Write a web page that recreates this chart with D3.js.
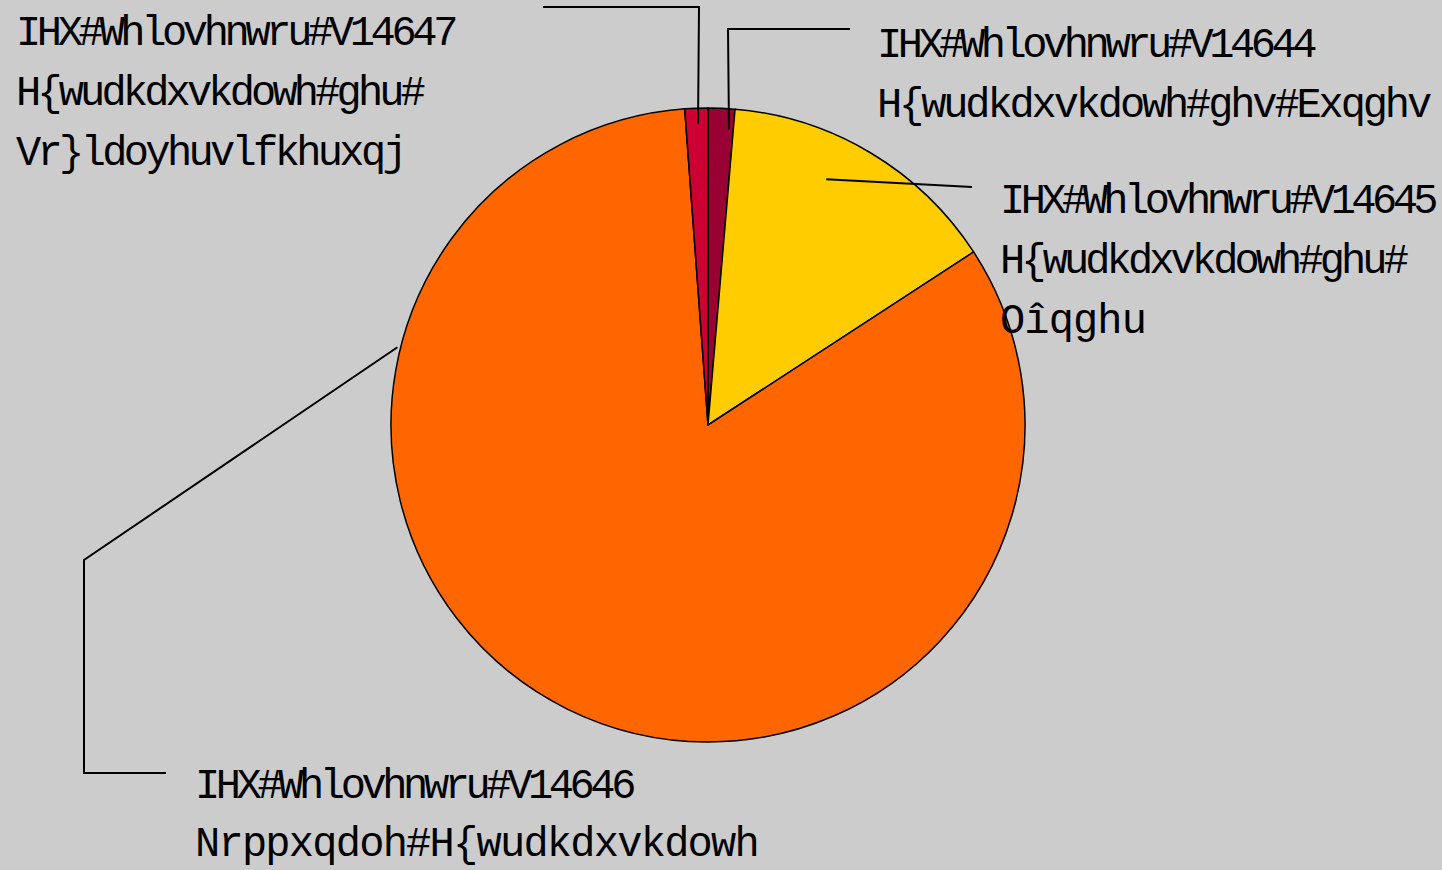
<!DOCTYPE html>
<html>
<head>
<meta charset="utf-8">
<script src="https://cdn.jsdelivr.net/npm/d3@7"></script>
<style>
  body { margin: 0; background: #cccccc; }
  svg { display: block; }
  .label { font-family: "Liberation Mono", "DejaVu Sans Mono", monospace; font-size: 42px; fill: #000; }
</style>
</head>
<body>
<svg id="chart" width="1442" height="870"></svg>
<script>
// sector names and shares (percent)
const sectors = ["S1.311", "S1.312", "S1.313", "S1.314"];
const shares = [1.36, 14.45, 83.02, 1.17];
const colors = ["#990033", "#ffcc00", "#ff6600", "#cc0033"];

// label text, line by line
const labelLines = [
  ["IHX#Whlovhnwru#V14644", "H{wudkdxvkdowh#ghv#Exqghv"],
  ["IHX#Whlovhnwru#V14645", "H{wudkdxvkdowh#ghu#", "Oîqghu"],
  ["IHX#Whlovhnwru#V14646", "Nrppxqdoh#H{wudkdxvkdowh"],
  ["IHX#Whlovhnwru#V14647", "H{wudkdxvkdowh#ghu#", "Vr}ldoyhuvlfkhuxqj"]
];

const width = 1442;
const height = 870;
const cx = 708;
const cy = 425;
const radius = 317;

// where each label sits and how its leader line runs
const labelLayout = [
  { x: 877, y: 57, widths: [436, 552], anchor: { t: 0.83, r: 0.935 }, bends: [[728, 29], [850, 29]] },
  { x: 1000, y: 213, widths: [434, 405, 146], anchor: { t: 0.40, r: 0.86 }, bends: [[972, 187]] },
  { x: 195, y: 798, lineGap: 58, widths: [437, 563], anchor: { t: 0.76, r: 1.01 }, bends: [[84, 560], [84, 773], [166, 773]] },
  { x: 16, y: 45, widths: [438, 406, 388], anchor: { t: 0.55, r: 0.95 }, bends: [[699, 7], [543, 7]] }
];

const data = sectors.map(function (s, i) {
  return { sector: s, share: shares[i], color: colors[i], lines: labelLines[i], layout: labelLayout[i] };
});

const svg = d3.select("#chart");

svg.append("rect")
  .attr("width", width)
  .attr("height", height)
  .attr("fill", "#cccccc");

const pie = d3.pie()
  .sort(null)
  .value(function (d) { return d.share; });

const arc = d3.arc()
  .innerRadius(0)
  .outerRadius(radius);

const arcs = pie(data);

const g = svg.append("g")
  .attr("transform", "translate(" + cx + "," + cy + ")");

g.selectAll(".slice")
  .data(arcs)
  .join("path")
  .attr("class", "slice")
  .attr("d", arc)
  .attr("fill", function (d) { return d.data.color; })
  .attr("stroke", "#000")
  .attr("stroke-width", 1.5)
  .attr("stroke-linejoin", "round");

// leader lines: start inside the slice, then run to the label
function anchorPoint(d) {
  const a = d.startAngle + (d.endAngle - d.startAngle) * d.data.layout.anchor.t;
  const r = radius * d.data.layout.anchor.r;
  return [cx + r * Math.sin(a), cy - r * Math.cos(a)];
}

svg.selectAll(".leader")
  .data(arcs)
  .join("path")
  .attr("class", "leader")
  .attr("d", function (d) {
    return d3.line()([anchorPoint(d)].concat(d.data.layout.bends));
  })
  .attr("fill", "none")
  .attr("stroke", "#000")
  .attr("stroke-width", 2);

const labels = svg.selectAll(".label-g")
  .data(data)
  .join("g")
  .attr("class", "label-g");

labels.selectAll("text")
  .data(function (d) {
    const gap = d.layout.lineGap || 60;
    return d.lines.map(function (l, i) {
      return { text: l, x: d.layout.x, y: d.layout.y + i * gap, w: d.layout.widths[i] };
    });
  })
  .join("text")
  .attr("class", "label")
  .attr("x", function (d) { return d.x; })
  .attr("y", function (d) { return d.y; })
  .text(function (d) { return d.text; })
  .each(function (d) {
    // tighten the letters so each line keeps the width it has in the original
    const natural = this.getComputedTextLength();
    const n = d.text.length;
    d3.select(this).style("letter-spacing", ((d.w - natural) / n) + "px");
  });
</script>
</body>
</html>
